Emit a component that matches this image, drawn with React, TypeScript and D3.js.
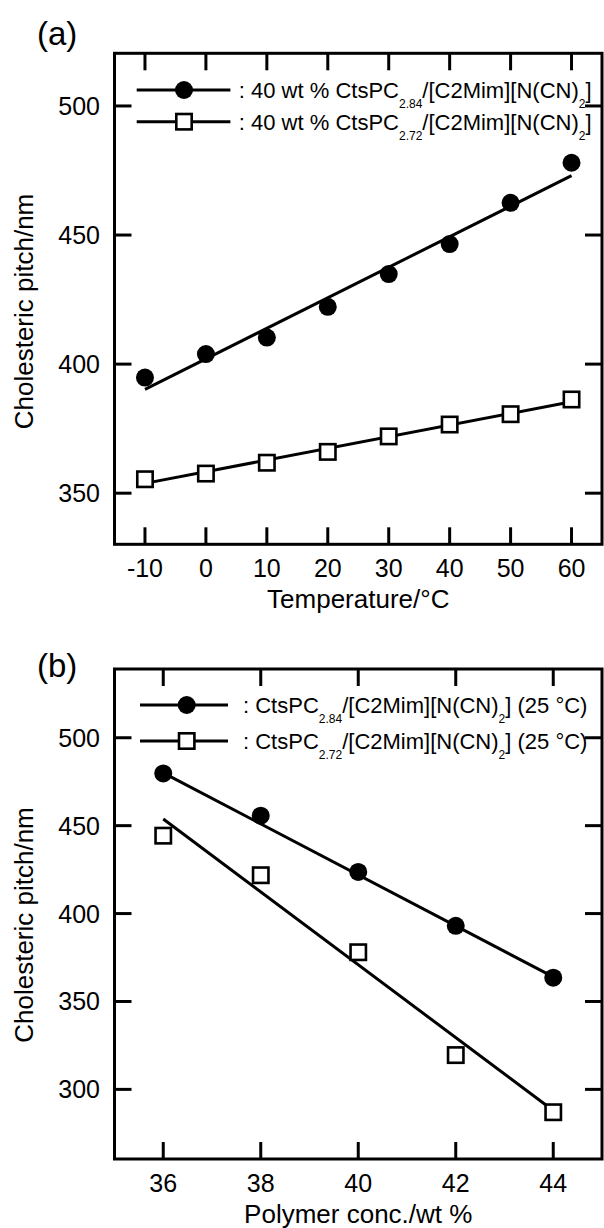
import React from 'react';
import * as d3 from 'd3';

// (a) pitch vs temperature, 40 wt %
const temperature = [-10, 0, 10, 20, 30, 40, 50, 60];
const pitchTemp284 = [394.8, 403.9, 410.3, 422.2, 434.9, 446.5, 462.5, 478.0];
const pitchTemp272 = [355.4, 357.6, 361.8, 366.0, 372.0, 376.6, 380.6, 386.3];
const fitTempX = [-10, 60];
const fitTemp284 = [390.2, 473.0];
const fitTemp272 = [353.8, 385.4];

// (b) pitch vs polymer concentration, 25 °C
const concentration = [36, 38, 40, 42, 44];
const pitchConc284 = [479.7, 455.7, 423.7, 393.0, 363.5];
const pitchConc272 = [444.3, 421.8, 378.0, 319.5, 287.0];
const fitConcX = [36, 44];
const fitConc284 = [480.0, 364.0];
const fitConc272 = [453.8, 288.0];

// tick labels
const tempTicks = [-10, 0, 10, 20, 30, 40, 50, 60];
const pitchTicksA = [350, 400, 450, 500];
const concTicks = [36, 38, 40, 42, 44];
const pitchTicksB = [300, 350, 400, 450, 500];

const FONT = '"Liberation Sans", Arial, Helvetica, sans-serif';
const TICK = 17;

type Series = { x: number[]; y: number[]; fx: number[]; fy: number[]; open: boolean };
type Entry = { open: boolean; pre: string; sub: string; mid: string; tail: string };

interface PanelProps {
  top: number;
  bottom: number;
  xDomain: [number, number];
  yDomain: [number, number];
  xTicks: number[];
  yTicks: number[];
  series: Series[];
  label: string;
  labelY: number;
  xTitle: string;
  yTitleY: number;
  legend: Entry[];
  legendX: [number, number, number, number]; // line start, marker, line end, text
  legendRows: number[];
}

const Marker = ({ cx, cy, open }: { cx: number; cy: number; open: boolean }) =>
  open ? (
    <rect x={cx - 7.7} y={cy - 7.7} width={15.4} height={15.4} fill="#fff" stroke="#000" strokeWidth={2.6} />
  ) : (
    <circle cx={cx} cy={cy} r={9} fill="#000" />
  );

const Panel = (p: PanelProps) => {
  const left = 114.5, right = 602;
  const x = d3.scaleLinear().domain(p.xDomain).range([left, right]);
  const y = d3.scaleLinear().domain(p.yDomain).range([p.bottom, p.top]);
  const line = d3.line<[number, number]>().x(d => x(d[0])).y(d => y(d[1]));

  return (
    <g fontFamily={FONT} fill="#000">
      <text x={37} y={p.labelY} fontSize={33}>{p.label}</text>

      {/* fitted lines */}
      {p.series.map((s, i) => (
        <path key={'f' + i} d={line(s.fx.map((v, j) => [v, s.fy[j]]) as [number, number][]) ?? ''}
          fill="none" stroke="#000" strokeWidth={3} />
      ))}
      {/* data markers */}
      {p.series.map((s, i) =>
        s.x.map((v, j) => <Marker key={`m${i}-${j}`} cx={x(v)} cy={y(s.y[j])} open={s.open} />)
      )}

      {/* frame and inward ticks */}
      <rect x={left} y={p.top} width={right - left} height={p.bottom - p.top} fill="none" stroke="#000" strokeWidth={3} />
      {p.xTicks.map(t => (
        <g key={'x' + t}>
          <line x1={x(t)} x2={x(t)} y1={p.bottom} y2={p.bottom - TICK} stroke="#000" strokeWidth={3} />
          <line x1={x(t)} x2={x(t)} y1={p.top} y2={p.top + TICK} stroke="#000" strokeWidth={3} />
          <text x={x(t)} y={p.bottom + 33} fontSize={25} textAnchor="middle">{t}</text>
        </g>
      ))}
      {p.yTicks.map(t => (
        <g key={'y' + t}>
          <line x1={left} x2={left + TICK} y1={y(t)} y2={y(t)} stroke="#000" strokeWidth={3} />
          <line x1={right} x2={right - TICK} y1={y(t)} y2={y(t)} stroke="#000" strokeWidth={3} />
          <text x={100} y={y(t) + 9} fontSize={25} textAnchor="end">{t}</text>
        </g>
      ))}

      <text x={(left + right) / 2} y={p.bottom + 64} fontSize={26} textAnchor="middle">{p.xTitle}</text>
      <text transform={`translate(33,${p.yTitleY}) rotate(-90)`} fontSize={26} textAnchor="middle">
        Cholesteric pitch/nm
      </text>

      {/* legend */}
      {p.legend.map((e, i) => {
        const ry = p.legendRows[i];
        return (
          <g key={'l' + i}>
            <line x1={p.legendX[0]} x2={p.legendX[2]} y1={ry} y2={ry} stroke="#000" strokeWidth={3} />
            <Marker cx={p.legendX[1]} cy={ry} open={e.open} />
            <text x={p.legendX[3]} y={ry + 8} fontSize={22}>
              {e.pre}
              <tspan fontSize={12} dy={10}>{e.sub}</tspan>
              <tspan dy={-10}>{e.mid}</tspan>
              <tspan fontSize={12} dy={10}>2</tspan>
              <tspan dy={-10}>{e.tail}</tspan>
            </text>
          </g>
        );
      })}
    </g>
  );
};

const App = () => (
  <svg width={604} height={1228} style={{ position: 'absolute', left: 0, top: 0, background: '#fff' }}>
    <Panel
      top={53.3}
      bottom={544.3}
      xDomain={[-15, 65]}
      yDomain={[330.2, 520.4]}
      xTicks={tempTicks}
      yTicks={pitchTicksA}
      series={[
        { x: temperature, y: pitchTemp284, fx: fitTempX, fy: fitTemp284, open: false },
        { x: temperature, y: pitchTemp272, fx: fitTempX, fy: fitTemp272, open: true },
      ]}
      label="(a)"
      labelY={45}
      xTitle="Temperature/°C"
      yTitleY={311.5}
      legend={[
        { open: false, pre: ': 40 wt % CtsPC', sub: '2.84', mid: '/[C2Mim][N(CN)', tail: ']' },
        { open: true, pre: ': 40 wt % CtsPC', sub: '2.72', mid: '/[C2Mim][N(CN)', tail: ']' },
      ]}
      legendX={[136.7, 184, 230.4, 238.8]}
      legendRows={[90, 121.7]}
    />
    <Panel
      top={669}
      bottom={1159}
      xDomain={[35, 45]}
      yDomain={[260.4, 539.1]}
      xTicks={concTicks}
      yTicks={pitchTicksB}
      series={[
        { x: concentration, y: pitchConc284, fx: fitConcX, fy: fitConc284, open: false },
        { x: concentration, y: pitchConc272, fx: fitConcX, fy: fitConc272, open: true },
      ]}
      label="(b)"
      labelY={677}
      xTitle="Polymer conc./wt %"
      yTitleY={925}
      legend={[
        { open: false, pre: ': CtsPC', sub: '2.84', mid: '/[C2Mim][N(CN)', tail: '] (25 °C)' },
        { open: true, pre: ': CtsPC', sub: '2.72', mid: '/[C2Mim][N(CN)', tail: '] (25 °C)' },
      ]}
      legendX={[140, 186.7, 228, 243]}
      legendRows={[705, 741]}
    />
  </svg>
);

export default App;
